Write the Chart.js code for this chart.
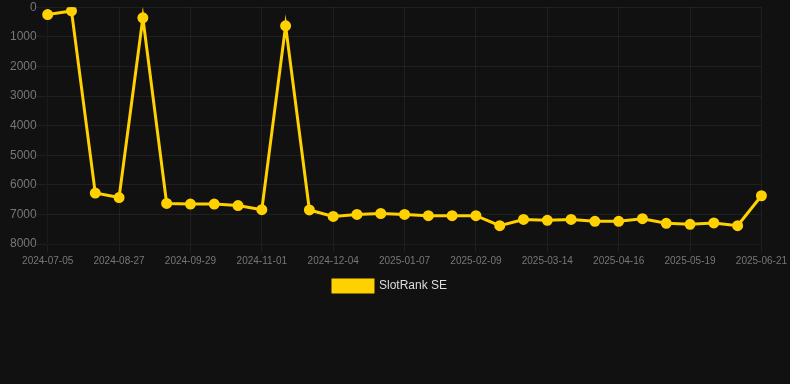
<!DOCTYPE html>
<html>
<head>
<meta charset="utf-8">
<script src="https://cdn.jsdelivr.net/npm/chart.js@4"></script>
<style>
  html, body { margin: 0; padding: 0; background: #111111; }
  #wrap { width: 790px; height: 302px; position: relative; }
</style>
</head>
<body>
<div id="wrap"><canvas id="rankChart"></canvas></div>
<script>
var dates = ['2024-07-05','2024-07-23','2024-08-09','2024-08-27','2024-09-07','2024-09-18',
  '2024-09-29','2024-10-10','2024-10-21','2024-11-01','2024-11-12','2024-11-23',
  '2024-12-04','2024-12-15','2024-12-26','2025-01-07','2025-01-18','2025-01-29',
  '2025-02-09','2025-02-20','2025-03-03','2025-03-14','2025-03-25','2025-04-05',
  '2025-04-16','2025-04-27','2025-05-08','2025-05-19','2025-05-30','2025-06-10','2025-06-21'];

var ranks = [250, 125, 6280, 6430, 360, 6630, 6650, 6650, 6700, 6840, 630,
  6850, 7070, 7000, 6970, 7000, 7045, 7045, 7045, 7380, 7170, 7200, 7170,
  7235, 7235, 7145, 7300, 7335, 7290, 7380, 6370];

var yTicks = [0, 1000, 2000, 3000, 4000, 5000, 6000, 7000, 8000];

var lineColor = '#FFD100';
var gridColor = 'rgba(255,255,255,0.06)';

var ctx = document.getElementById('rankChart');

var myChart = new Chart(ctx, {
  type: 'line',
  data: {
    labels: dates,
    datasets: [
      {
        label: 'SlotRank SE',
        data: ranks,
        borderColor: lineColor,
        backgroundColor: lineColor,
        pointBackgroundColor: lineColor,
        pointBorderColor: lineColor,
        borderWidth: 3,
        pointRadius: 4,
        tension: 0
      }
    ]
  },
  options: {
    responsive: true,
    maintainAspectRatio: false,
    animation: false,
    layout: { padding: { left: 10, right: 20 } },
    scales: {
      x: {
        grid: {
          // only the labelled dates get a grid line
          color: function(c) { return c.index % 3 === 0 ? gridColor : 'transparent'; }
        },
        ticks: {
          color: '#777',
          font: { size: 10 },
          maxRotation: 0,
          autoSkip: false,
          callback: function(val, i) {
            return i % 3 === 0 ? this.getLabelForValue(val) : '';
          }
        }
      },
      y: {
        reverse: true,
        min: yTicks[0],
        max: yTicks[yTicks.length - 1],
        grid: { color: gridColor, tickLength: 11 },
        ticks: {
          color: '#777',
          font: { size: 12 },
          padding: 0,
          stepSize: 1000,
          callback: function(v) { return String(v); }
        }
      }
    },
    plugins: {
      legend: {
        display: true,
        position: 'bottom',
        labels: { color: '#ddd', font: { size: 12 } }
      },
      tooltip: { enabled: false }
    }
  }
});
</script>
</body>
</html>
